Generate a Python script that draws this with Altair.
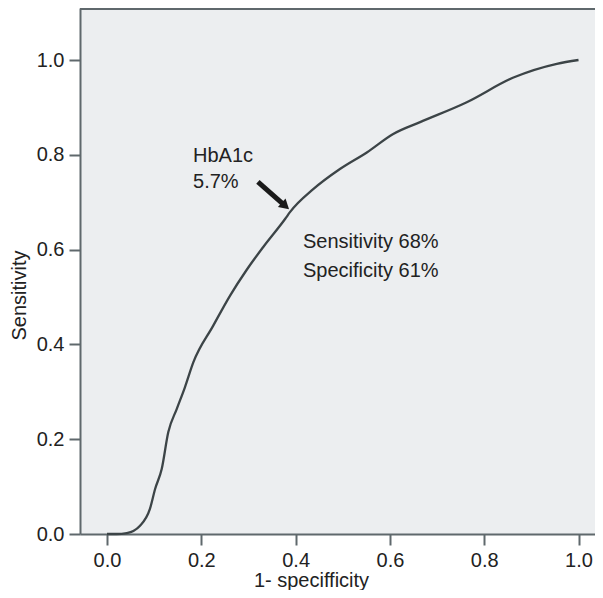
import altair as alt
import pandas as pd

# ROC curve
fpr = [0.0, 0.02, 0.042, 0.070, 0.091, 0.102, 0.116, 0.130, 0.148, 0.165, 0.183, 0.225,
       0.261, 0.296, 0.331, 0.378, 0.388, 0.438, 0.494, 0.551, 0.607, 0.664, 0.763,
       0.862, 0.954, 1.0]
tpr = [0.0, 0.0, 0.002, 0.0175, 0.053, 0.095, 0.137, 0.215, 0.264, 0.309, 0.362, 0.439,
       0.503, 0.557, 0.605, 0.665, 0.679, 0.728, 0.770, 0.805, 0.844, 0.869, 0.911,
       0.963, 0.992, 1.0]

tick_values = [0.0, 0.2, 0.4, 0.6, 0.8, 1.0]

ann_text = ["HbA1c", "5.7%", "Sensitivity 68%", "Specificity 61%"]
ann_x = [0.1824, 0.1824, 0.4157, 0.4157]
ann_y = [0.785, 0.730, 0.603, 0.542]

arrow_x = [0.320, 0.376]
arrow_y = [0.743, 0.694]
head_x = [0.3783]
head_y = [0.692]

AXC = "#5f686c"
FONT = "Liberation Sans"
W, H = 515, 526

roc = pd.DataFrame({"fpr": fpr, "tpr": tpr, "order": list(range(len(fpr)))})
ann = pd.DataFrame({"x": ann_x, "y": ann_y, "t": ann_text})
arr = pd.DataFrame({"x": arrow_x[:1], "y": arrow_y[:1], "x2": arrow_x[1:], "y2": arrow_y[1:]})
head = pd.DataFrame({"x": head_x, "y": head_y})

xscale = alt.Scale(domain=[-0.0573, -0.0573 + W / 471.5], nice=False, zero=False)
yscale = alt.Scale(domain=[0, H / 474.0], nice=False)

xaxis = alt.Axis(values=tick_values, format=".1f", grid=False, domainColor=AXC, domainWidth=2,
                 tickColor=AXC, tickWidth=2, tickSize=11, labelFontSize=20, labelFont=FONT,
                 labelColor="#222", labelPadding=5, title="1- specifficity", titleFont=FONT,
                 titleFontSize=20, titleFontWeight="normal", titleColor="#222",
                 titleX=231, titleY=52, titleAnchor="start", titleAlign="center",
                 titleBaseline="alphabetic")
yaxis = alt.Axis(values=tick_values, format=".1f", grid=False, domainColor=AXC, domainWidth=2,
                 tickColor=AXC, tickWidth=2, tickSize=11, labelFontSize=20, labelFont=FONT,
                 labelColor="#222", labelPadding=5, title="Sensitivity", titleFont=FONT,
                 titleFontSize=20, titleFontWeight="normal", titleColor="#222",
                 titleX=-55, titleY=287, titleAngle=270, titleAlign="center",
                 titleBaseline="alphabetic", titleAnchor="start")

line = alt.Chart(roc).mark_line(color="#3c4447", strokeWidth=2.3, interpolate="monotone").encode(
    x=alt.X("fpr:Q", scale=xscale, axis=xaxis),
    y=alt.Y("tpr:Q", scale=yscale, axis=yaxis),
    order="order:Q",
)

texts = alt.Chart(ann).mark_text(align="left", baseline="alphabetic", fontSize=20,
                                 font=FONT, color="#222").encode(
    x=alt.X("x:Q", scale=xscale), y=alt.Y("y:Q", scale=yscale), text="t:N")

shaft = alt.Chart(arr).mark_rule(color="#1a1a1a", strokeWidth=5).encode(
    x=alt.X("x:Q", scale=xscale), y=alt.Y("y:Q", scale=yscale), x2="x2:Q", y2="y2:Q")

arrowhead = alt.Chart(head).mark_point(shape="triangle-up", filled=True, color="#1a1a1a",
                                       size=130, angle=132, opacity=1).encode(
    x=alt.X("x:Q", scale=xscale), y=alt.Y("y:Q", scale=yscale))

topborder = alt.Chart(pd.DataFrame({"a": [0]})).mark_rule(color=AXC, strokeWidth=2).encode(
    x=alt.value(0), x2=alt.value(W), y=alt.value(1))

chart = alt.layer(line, texts, shaft, arrowhead, topborder).properties(
    width=W, height=H,
    background="white",
    autosize=alt.AutoSizeParams(type="none"),
    padding={"left": 72, "top": 0, "right": 0, "bottom": 56},
).configure_view(fill="#eceef0", stroke=None)

chart.save("out.html", embed_options={"renderer": "svg", "actions": False})
